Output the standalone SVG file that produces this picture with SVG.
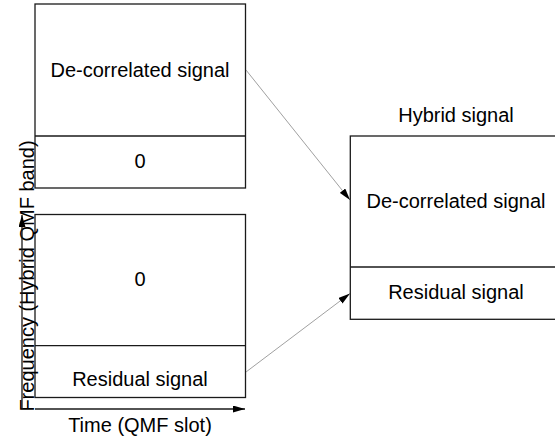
<svg xmlns="http://www.w3.org/2000/svg" width="555" height="437" viewBox="0 0 555 437">
<style>
.box{fill:#fff;stroke:#1a1a1a;stroke-width:1.3}
.div{stroke:#1a1a1a;stroke-width:1.3}
text{font-family:"Liberation Sans",Arial,sans-serif;font-size:20px;fill:#000;text-anchor:middle}
.conn{stroke:#777;stroke-width:0.7;fill:none}
.axis{stroke:#1a1a1a;stroke-width:1.3;fill:none}
</style>
<defs>
<marker id="ah" viewBox="0 0 12 7" refX="12" refY="3.5" markerWidth="12" markerHeight="7" markerUnits="userSpaceOnUse" orient="auto">
<path d="M0,0 L12,3.5 L0,7 Z" fill="#000"/>
</marker>
</defs>
<rect width="555" height="437" fill="#fff"/>
<g id="top-left">
<rect class="box" x="35" y="4" width="210.5" height="184"/>
<line class="div" x1="35" y1="136" x2="245.5" y2="136"/>
<text x="140" y="77">De-correlated signal</text>
<text x="140" y="168">0</text>
</g>
<g id="bottom-left">
<rect class="box" x="35" y="214.5" width="210.5" height="183"/>
<line class="div" x1="35" y1="345.7" x2="245.5" y2="345.7"/>
<text x="140" y="286">0</text>
<text x="140" y="386">Residual signal</text>
</g>
<g id="hybrid">
<text x="456" y="122">Hybrid signal</text>
<rect class="box" x="350.3" y="136" width="215" height="183.3"/>
<line class="div" x1="350.3" y1="267" x2="560" y2="267"/>
<text x="456" y="208">De-correlated signal</text>
<text x="456" y="298.5">Residual signal</text>
</g>
<g id="axes">
<text transform="translate(33.5,276) rotate(-90)" x="0" y="0">Frequency (Hybrid QMF band)</text>
<line class="axis" x1="22" y1="409" x2="22" y2="215" marker-end="url(#ah)"/>
<line class="axis" x1="35" y1="409" x2="245" y2="409" marker-end="url(#ah)"/>
<text x="140" y="432">Time (QMF slot)</text>
</g>
<g id="connectors">
<line class="conn" x1="246" y1="70" x2="350" y2="200" marker-end="url(#ah)"/>
<line class="conn" x1="246" y1="372" x2="350" y2="293.5" marker-end="url(#ah)"/>
</g>
</svg>
